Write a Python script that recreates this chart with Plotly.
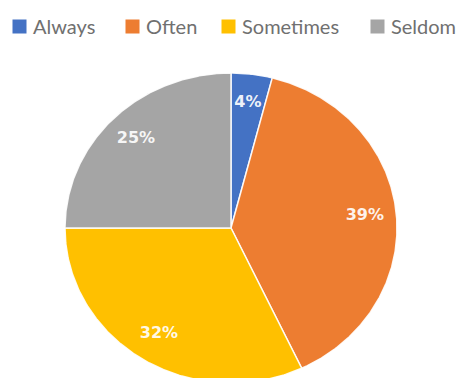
import numpy as np
import plotly.graph_objects as go

# Survey answer shares (percent), drawn clockwise from 12 o'clock
categories = ["Always", "Often", "Sometimes", "Seldom"]
shares = [4, 39, 32, 25]
colors = ["#4472C4", "#ED7D31", "#FFC000", "#A5A5A5"]

# Pie geometry in pixels (the pie is drawn slightly oval)
W, H = 459, 378
CX, CY = 231, 228      # centre, measured from top-left
RX, RY = 166, 155      # horizontal / vertical radius
LABEL_R = 0.81         # label distance as a fraction of the radius

# Legend row: left edge of each key square (px) and the row's vertical centre
LEGEND_X = [12, 125, 221, 370]
LEGEND_Y = 26
KEY = 13               # key square size, px
KEY_GAP = 6            # gap between square and its text, px

fig = go.Figure()

total = sum(shares)
start = 0.0
for name, val, col in zip(categories, shares, colors):
    span = 360.0 * val / total
    ang = np.radians(np.linspace(start, start + span, max(int(span * 2), 4)))
    # angle measured clockwise from the top
    xs = np.concatenate([[0.0], np.sin(ang), [0.0]])
    ys = np.concatenate([[0.0], np.cos(ang), [0.0]])
    fig.add_trace(go.Scatter(
        x=xs, y=ys, mode="lines", fill="toself", fillcolor=col,
        line=dict(color="rgba(255,255,255,0.9)", width=1.5),
        hoverinfo="skip", showlegend=False, name=name,
    ))
    mid = np.radians(start + span / 2)
    fig.add_trace(go.Scatter(
        x=[LABEL_R * np.sin(mid)], y=[LABEL_R * np.cos(mid)],
        mode="text", text=[f"<b>{val}%</b>"],
        textfont=dict(family="DejaVu Sans", size=16, color="rgba(255,255,255,0.92)"),
        hoverinfo="skip", showlegend=False,
    ))
    start += span

fig.update_xaxes(range=[-CX / RX, (W - CX) / RX], visible=False, fixedrange=True)
fig.update_yaxes(range=[-(H - CY) / RY, CY / RY], visible=False, fixedrange=True)

# Horizontal key across the top
annotations = []
for name, col, lx in zip(categories, colors, LEGEND_X):
    annotations.append(dict(
        xref="paper", yref="paper", x=lx / W, y=1 - LEGEND_Y / H,
        xanchor="left", yanchor="middle", showarrow=False,
        text=" ", width=KEY, height=KEY, bgcolor=col, borderpad=0,
        font=dict(size=1),
    ))
    annotations.append(dict(
        xref="paper", yref="paper", x=(lx + KEY + KEY_GAP) / W, y=1 - LEGEND_Y / H,
        xanchor="left", yanchor="middle", showarrow=False,
        text=name, font=dict(family="Lato", size=20, color="#707070"),
    ))

fig.update_layout(
    width=W, height=H,
    margin=dict(l=0, r=0, t=0, b=0),
    paper_bgcolor="white", plot_bgcolor="white",
    showlegend=False,
    annotations=annotations,
)

fig.write_html("out.html")
